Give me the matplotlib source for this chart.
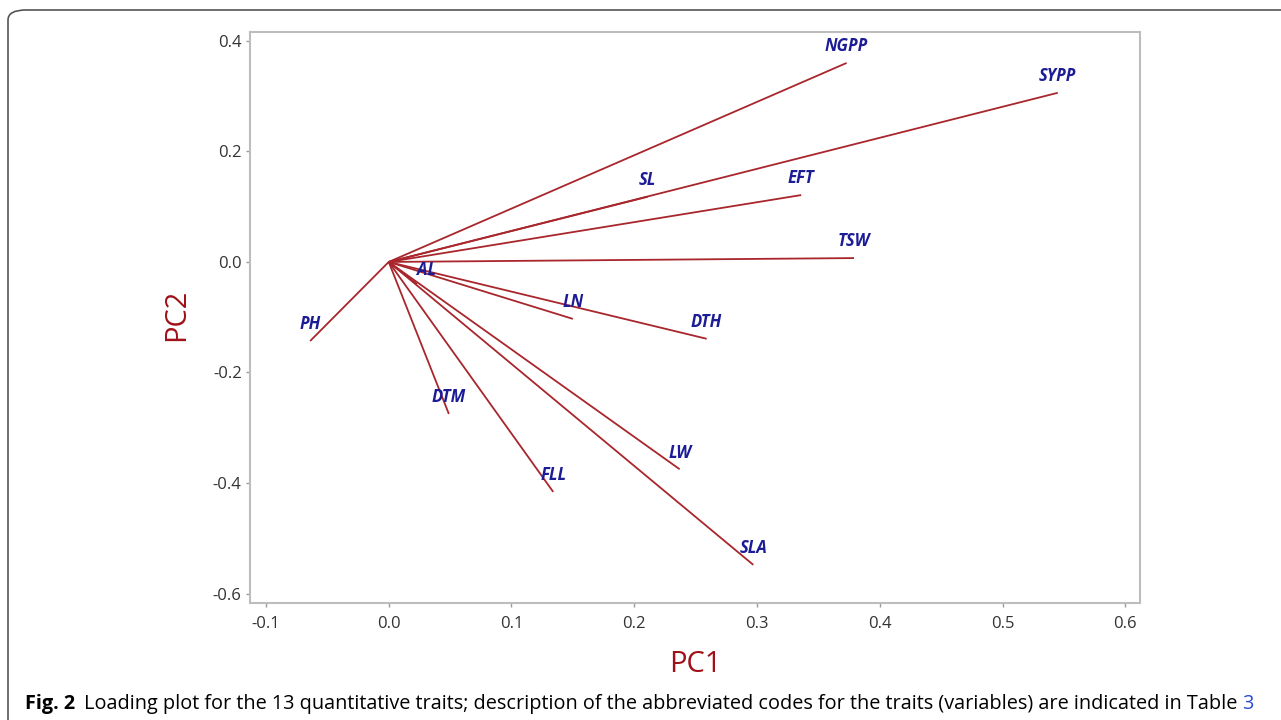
import matplotlib
matplotlib.use("Agg")
import matplotlib.pyplot as plt
from matplotlib.patches import FancyBboxPatch

traits = ["NGPP", "SYPP", "EFT", "SL", "TSW", "AL", "LN", "DTH", "PH", "DTM", "FLL", "LW", "SLA"]
pc1 = [0.373, 0.545, 0.336, 0.211, 0.379, 0.023, 0.150, 0.259, -0.064, 0.049, 0.134, 0.237, 0.297]
pc2 = [0.360, 0.306, 0.121, 0.118, 0.007, -0.040, -0.103, -0.139, -0.143, -0.275, -0.416, -0.375, -0.548]
xticks = [-0.1, 0.0, 0.1, 0.2, 0.3, 0.4, 0.5, 0.6]
yticks = [0.4, 0.2, 0.0, -0.2, -0.4, -0.6]

fig = plt.figure(figsize=(12.81, 7.2), dpi=100)
ax = fig.add_axes([250/1281, 1-603/720, 890/1281, 571/720])

line_col = "#a8262c"
lab_col = "#1c1c96"
for name, x, y in zip(traits, pc1, pc2):
    ax.plot([0, x], [0, y], color=line_col, lw=1.3, solid_capstyle="butt")
    off = (7, 10) if name == "AL" else (0, 12)
    ax.annotate(name, (x, y), xytext=off, textcoords="offset points",
                ha="center", va="center", color=lab_col, fontsize=12,
                fontstyle="italic", fontweight="bold", family="Open Sans")

ax.set_xlim(-0.113, 0.612)
ax.set_ylim(-0.617, 0.416)
ax.set_xticks(xticks)
ax.set_xticklabels([f"{v:.1f}" for v in xticks])
ax.set_yticks(yticks)
ax.set_yticklabels([f"{v:.1f}" for v in yticks])
for s in ax.spines.values():
    s.set_color("#bdbdbd")
    s.set_linewidth(1.5)
ax.tick_params(colors="#9a9a9a", labelcolor="#333333", labelsize=12, length=3,
               width=1)
ax.tick_params(axis="y", pad=3)
ax.tick_params(axis="x", pad=6)
for lab in ax.get_xticklabels() + ax.get_yticklabels():
    lab.set_family("Open Sans")

fig.text(695/1281, 1-665/720, "PC1", color="#a01018", fontsize=21,
         family="Open Sans", ha="center", va="center")
fig.text(177/1281, 1-315/720, "PC2", color="#a01018", fontsize=21,
         family="Open Sans", ha="center", va="center", rotation=90)

# outer frame
frame = FancyBboxPatch((8/1281, -0.1), 1.2, (720-10)/720 + 0.1,
                       boxstyle="round,pad=0,rounding_size=0.014",
                       transform=fig.transFigure, fill=False,
                       edgecolor="#555555", lw=1.2, clip_on=False)
fig.patches.append(frame)

cap_y = 1 - 704/720
t1 = fig.text(25/1281, cap_y, "Fig. 2", fontweight="bold", fontsize=14.3,
              family="Open Sans", va="center", ha="left")
fig.canvas.draw()
bb = t1.get_window_extent()
t2 = fig.text((bb.x1 + 9)/1281, cap_y,
              "Loading plot for the 13 quantitative traits; description of the abbreviated codes for the traits (variables) are indicated in Table",
              fontsize=14.3, family="Open Sans", va="center", ha="left")
bb2 = t2.get_window_extent()
fig.text((bb2.x1 + 5)/1281, cap_y, "3", fontsize=14.3, family="Open Sans",
         va="center", ha="left", color="#2a4bd7")

fig.savefig("out.png", dpi=100)
